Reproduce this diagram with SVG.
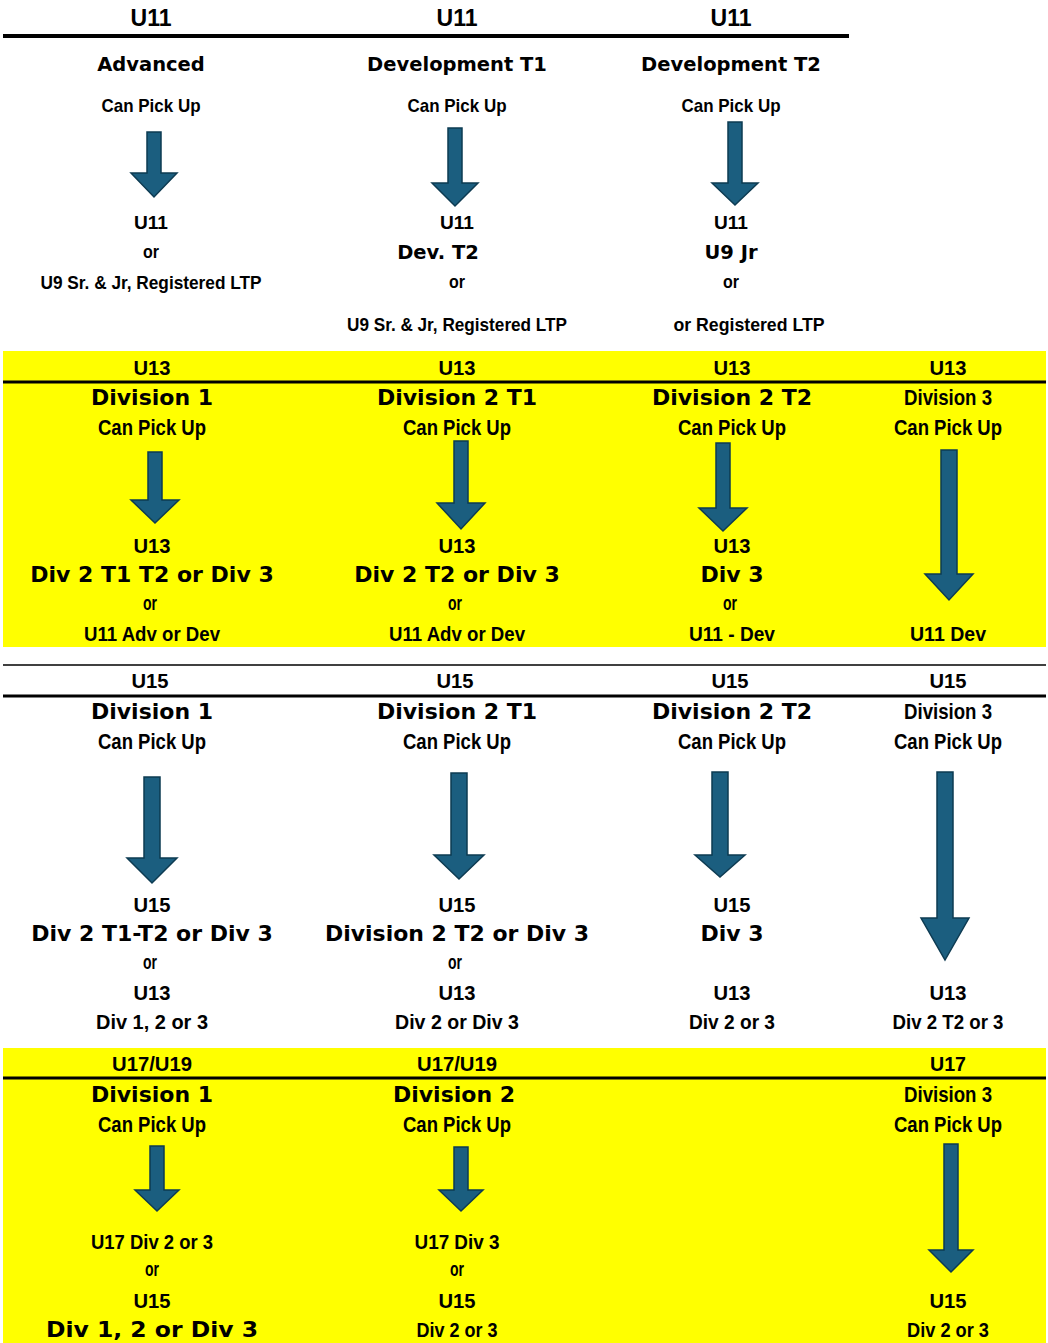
<svg xmlns="http://www.w3.org/2000/svg" width="1048" height="1343" viewBox="0 0 1048 1343">
<style>
text{text-anchor:middle;fill:#000}
.v{font-family:"DejaVu Sans",Verdana,sans-serif;font-weight:bold}
.c{font-family:"Liberation Sans",Arial,sans-serif;font-weight:bold}
.s18{font-size:19px}.s19{font-size:21px}.s20{font-size:22px}.s22{font-size:23px}
.vb{font-size:19.5px}.vl{font-size:22px}
.thick{stroke:#000;stroke-width:4}
.mid{stroke:#000;stroke-width:3}
.thin{stroke:#000;stroke-width:1.5}
.arr{fill:#1b5e7f;stroke:#0d3b52;stroke-width:1.5;stroke-linejoin:miter}
</style>
<rect width="1048" height="1343" fill="#fff"/>
<g id="bands">
<rect x="3" y="351" width="1043" height="296" fill="#ffff00"/>
<rect x="3" y="1048" width="1043" height="295" fill="#ffff00"/>
<line class="thick" x1="3" y1="36" x2="849" y2="36"/>
<line class="mid" x1="3" y1="382" x2="1046" y2="382"/>
<line class="thin" x1="3" y1="665" x2="1046" y2="665"/>
<line class="mid" x1="3" y1="696" x2="1046" y2="696"/>
<line class="mid" x1="3" y1="1078" x2="1046" y2="1078"/>
</g>

<g id="u11-advanced">
<text class="c s22" x="151" y="26" textLength="41" lengthAdjust="spacingAndGlyphs">U11</text>
<text class="v vb" x="151" y="71">Advanced</text>
<text class="c s18" x="151" y="112" textLength="99" lengthAdjust="spacingAndGlyphs">Can Pick Up</text>
<text class="c s18" x="151" y="229" textLength="34" lengthAdjust="spacingAndGlyphs">U11</text>
<text class="c s18" x="151" y="258" textLength="16" lengthAdjust="spacingAndGlyphs">or</text>
<text class="c s18" x="151" y="289" textLength="221" lengthAdjust="spacingAndGlyphs">U9 Sr. &amp; Jr, Registered LTP</text>
</g>
<g id="u11-dev-t1">
<text class="c s22" x="457" y="26" textLength="41" lengthAdjust="spacingAndGlyphs">U11</text>
<text class="v vb" x="457" y="71">Development T1</text>
<text class="c s18" x="457" y="112" textLength="99" lengthAdjust="spacingAndGlyphs">Can Pick Up</text>
<text class="c s18" x="457" y="229" textLength="34" lengthAdjust="spacingAndGlyphs">U11</text>
<text class="v vb" x="438" y="259">Dev. T2</text>
<text class="c s18" x="457" y="288" textLength="16" lengthAdjust="spacingAndGlyphs">or</text>
<text class="c s18" x="457" y="331" textLength="220" lengthAdjust="spacingAndGlyphs">U9 Sr. &amp; Jr, Registered LTP</text>
</g>
<g id="u11-dev-t2">
<text class="c s22" x="731" y="26" textLength="41" lengthAdjust="spacingAndGlyphs">U11</text>
<text class="v vb" x="731" y="71">Development T2</text>
<text class="c s18" x="731" y="112" textLength="99" lengthAdjust="spacingAndGlyphs">Can Pick Up</text>
<text class="c s18" x="731" y="229" textLength="34" lengthAdjust="spacingAndGlyphs">U11</text>
<text class="v vb" x="731" y="259">U9 Jr</text>
<text class="c s18" x="731" y="288" textLength="16" lengthAdjust="spacingAndGlyphs">or</text>
<text class="c s18" x="749" y="331" textLength="151" lengthAdjust="spacingAndGlyphs">or Registered  LTP</text>
</g>

<g id="u13-div1">
<text class="c s19" x="152" y="375" textLength="37" lengthAdjust="spacingAndGlyphs">U13</text>
<text class="v vl" x="152" y="405">Division 1</text>
<text class="c s20" x="152" y="435" textLength="108" lengthAdjust="spacingAndGlyphs">Can Pick Up</text>
<text class="c s19" x="152" y="553" textLength="37" lengthAdjust="spacingAndGlyphs">U13</text>
<text class="v vl" x="152" y="582">Div 2 T1 T2 or Div 3</text>
<text class="c s19" x="150" y="610" textLength="14" lengthAdjust="spacingAndGlyphs">or</text>
<text class="c s19" x="152" y="641" textLength="136" lengthAdjust="spacingAndGlyphs">U11 Adv or Dev</text>
</g>
<g id="u13-div2t1">
<text class="c s19" x="457" y="375" textLength="37" lengthAdjust="spacingAndGlyphs">U13</text>
<text class="v vl" x="457" y="405">Division 2 T1</text>
<text class="c s20" x="457" y="435" textLength="108" lengthAdjust="spacingAndGlyphs">Can Pick Up</text>
<text class="c s19" x="457" y="553" textLength="37" lengthAdjust="spacingAndGlyphs">U13</text>
<text class="v vl" x="457" y="582">Div 2 T2 or Div 3</text>
<text class="c s19" x="455" y="610" textLength="14" lengthAdjust="spacingAndGlyphs">or</text>
<text class="c s19" x="457" y="641" textLength="136" lengthAdjust="spacingAndGlyphs">U11 Adv or Dev</text>
</g>
<g id="u13-div2t2">
<text class="c s19" x="732" y="375" textLength="37" lengthAdjust="spacingAndGlyphs">U13</text>
<text class="v vl" x="732" y="405">Division 2 T2</text>
<text class="c s20" x="732" y="435" textLength="108" lengthAdjust="spacingAndGlyphs">Can Pick Up</text>
<text class="c s19" x="732" y="553" textLength="37" lengthAdjust="spacingAndGlyphs">U13</text>
<text class="v vl" x="732" y="582">Div 3</text>
<text class="c s19" x="730" y="610" textLength="14" lengthAdjust="spacingAndGlyphs">or</text>
<text class="c s19" x="732" y="641" textLength="86" lengthAdjust="spacingAndGlyphs">U11 - Dev</text>
</g>
<g id="u13-div3">
<text class="c s19" x="948" y="375" textLength="37" lengthAdjust="spacingAndGlyphs">U13</text>
<text class="c s20" x="948" y="405" textLength="88" lengthAdjust="spacingAndGlyphs">Division 3</text>
<text class="c s20" x="948" y="435" textLength="108" lengthAdjust="spacingAndGlyphs">Can Pick Up</text>
<text class="c s19" x="948" y="641" textLength="76" lengthAdjust="spacingAndGlyphs">U11 Dev</text>
</g>

<g id="u15-div1">
<text class="c s19" x="150" y="688" textLength="37" lengthAdjust="spacingAndGlyphs">U15</text>
<text class="v vl" x="152" y="719">Division 1</text>
<text class="c s20" x="152" y="749" textLength="108" lengthAdjust="spacingAndGlyphs">Can Pick Up</text>
<text class="c s19" x="152" y="912" textLength="37" lengthAdjust="spacingAndGlyphs">U15</text>
<text class="v vl" x="152" y="941">Div 2 T1-T2 or Div 3</text>
<text class="c s19" x="150" y="969" textLength="14" lengthAdjust="spacingAndGlyphs">or</text>
<text class="c s19" x="152" y="1000" textLength="37" lengthAdjust="spacingAndGlyphs">U13</text>
<text class="c s19" x="152" y="1029" textLength="112" lengthAdjust="spacingAndGlyphs">Div 1, 2 or 3</text>
</g>
<g id="u15-div2t1">
<text class="c s19" x="455" y="688" textLength="37" lengthAdjust="spacingAndGlyphs">U15</text>
<text class="v vl" x="457" y="719">Division 2 T1</text>
<text class="c s20" x="457" y="749" textLength="108" lengthAdjust="spacingAndGlyphs">Can Pick Up</text>
<text class="c s19" x="457" y="912" textLength="37" lengthAdjust="spacingAndGlyphs">U15</text>
<text class="v vl" x="457" y="941" textLength="264" lengthAdjust="spacingAndGlyphs">Division 2 T2 or Div 3</text>
<text class="c s19" x="455" y="969" textLength="14" lengthAdjust="spacingAndGlyphs">or</text>
<text class="c s19" x="457" y="1000" textLength="37" lengthAdjust="spacingAndGlyphs">U13</text>
<text class="c s19" x="457" y="1029" textLength="124" lengthAdjust="spacingAndGlyphs">Div 2 or Div 3</text>
</g>
<g id="u15-div2t2">
<text class="c s19" x="730" y="688" textLength="37" lengthAdjust="spacingAndGlyphs">U15</text>
<text class="v vl" x="732" y="719">Division 2 T2</text>
<text class="c s20" x="732" y="749" textLength="108" lengthAdjust="spacingAndGlyphs">Can Pick Up</text>
<text class="c s19" x="732" y="912" textLength="37" lengthAdjust="spacingAndGlyphs">U15</text>
<text class="v vl" x="732" y="941">Div 3</text>
<text class="c s19" x="732" y="1000" textLength="37" lengthAdjust="spacingAndGlyphs">U13</text>
<text class="c s19" x="732" y="1029" textLength="86" lengthAdjust="spacingAndGlyphs">Div 2 or 3</text>
</g>
<g id="u15-div3">
<text class="c s19" x="948" y="688" textLength="37" lengthAdjust="spacingAndGlyphs">U15</text>
<text class="c s20" x="948" y="719" textLength="88" lengthAdjust="spacingAndGlyphs">Division 3</text>
<text class="c s20" x="948" y="749" textLength="108" lengthAdjust="spacingAndGlyphs">Can Pick Up</text>
<text class="c s19" x="948" y="1000" textLength="37" lengthAdjust="spacingAndGlyphs">U13</text>
<text class="c s19" x="948" y="1029" textLength="111" lengthAdjust="spacingAndGlyphs">Div 2 T2 or 3</text>
</g>

<g id="u17-div1">
<text class="c s19" x="152" y="1071" textLength="80" lengthAdjust="spacingAndGlyphs">U17/U19</text>
<text class="v vl" x="152" y="1102">Division 1</text>
<text class="c s20" x="152" y="1132" textLength="108" lengthAdjust="spacingAndGlyphs">Can Pick Up</text>
<text class="c s19" x="152" y="1249" textLength="122" lengthAdjust="spacingAndGlyphs">U17 Div 2 or 3</text>
<text class="c s19" x="152" y="1276" textLength="14" lengthAdjust="spacingAndGlyphs">or</text>
<text class="c s19" x="152" y="1308" textLength="37" lengthAdjust="spacingAndGlyphs">U15</text>
<text class="v vl" x="152" y="1337" textLength="212" lengthAdjust="spacingAndGlyphs">Div  1, 2  or Div 3</text>
</g>
<g id="u17-div2">
<text class="c s19" x="457" y="1071" textLength="80" lengthAdjust="spacingAndGlyphs">U17/U19</text>
<text class="v vl" x="454" y="1102">Division 2</text>
<text class="c s20" x="457" y="1132" textLength="108" lengthAdjust="spacingAndGlyphs">Can Pick Up</text>
<text class="c s19" x="457" y="1249" textLength="85" lengthAdjust="spacingAndGlyphs">U17 Div 3</text>
<text class="c s19" x="457" y="1276" textLength="14" lengthAdjust="spacingAndGlyphs">or</text>
<text class="c s19" x="457" y="1308" textLength="37" lengthAdjust="spacingAndGlyphs">U15</text>
<text class="c s19" x="457" y="1337" textLength="81" lengthAdjust="spacingAndGlyphs">Div 2 or 3</text>
</g>
<g id="u17-div3">
<text class="c s19" x="948" y="1071" textLength="36" lengthAdjust="spacingAndGlyphs">U17</text>
<text class="c s20" x="948" y="1102" textLength="88" lengthAdjust="spacingAndGlyphs">Division 3</text>
<text class="c s20" x="948" y="1132" textLength="108" lengthAdjust="spacingAndGlyphs">Can Pick Up</text>
<text class="c s19" x="948" y="1308" textLength="37" lengthAdjust="spacingAndGlyphs">U15</text>
<text class="c s19" x="948" y="1337" textLength="82" lengthAdjust="spacingAndGlyphs">Div 2 or 3</text>
</g>

<g id="connectors">
<path class="arr" d="M147 132H161V173H177L154 197L131 173H147Z"/>
<path class="arr" d="M448 128H462V183H478L455 206L432 183H448Z"/>
<path class="arr" d="M728 122H742V183H758L735 205L712 183H728Z"/>
<path class="arr" d="M148 452H162V500H179L155 523L131 500H148Z"/>
<path class="arr" d="M454 441H468V503H485L461 529L437 503H454Z"/>
<path class="arr" d="M716 443H730V508H747L723 531L699 508H716Z"/>
<path class="arr" d="M941 450H957V574H973L949 600L925 574H941Z"/>
<path class="arr" d="M144 777H160V858H177L152 883L127 858H144Z"/>
<path class="arr" d="M451 773H467V855H484L459 879L434 855H451Z"/>
<path class="arr" d="M712 772H728V855H745L720 877L695 855H712Z"/>
<path class="arr" d="M937 772H953V918H969L945 960L921 918H937Z"/>
<path class="arr" d="M150 1146H164V1190H179L157 1211L135 1190H150Z"/>
<path class="arr" d="M454 1147H468V1190H483L461 1211L439 1190H454Z"/>
<path class="arr" d="M944 1144H958V1250H973L951 1272L929 1250H944Z"/>
</g>
</svg>
